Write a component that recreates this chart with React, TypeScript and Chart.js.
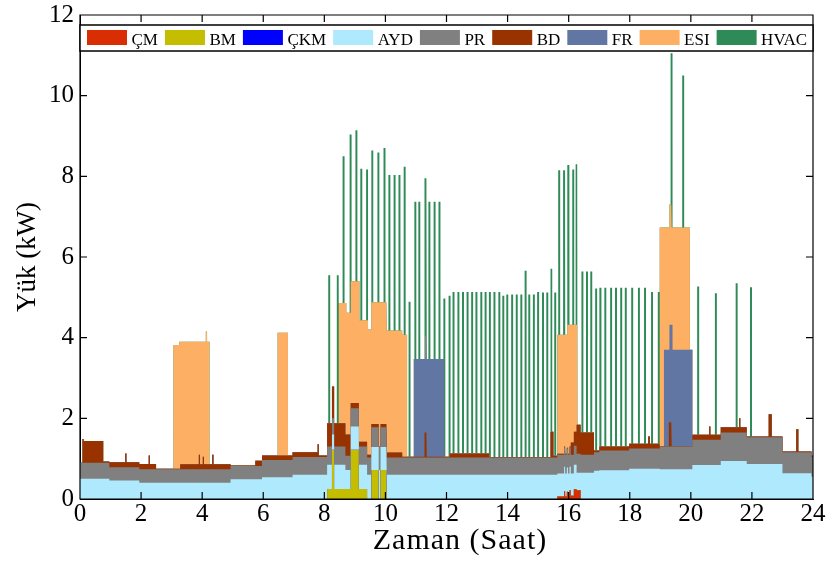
import React, { useEffect, useRef } from 'react';
import { Chart, registerables } from 'chart.js';

Chart.register(...registerables);

const FONT = '"Liberation Serif", "Times New Roman", serif';

const seriesLabels = ['ÇM', 'BM', 'ÇKM', 'AYD', 'PR', 'BD', 'FR', 'ESI', 'HVAC'];
const seriesColors = ['#D92E04', '#C4BD00', '#0000FF', '#AEE9FD', '#808080', '#983300', '#6276A4', '#FDAF63', '#2E8A57'];

const xTickValues = [0, 2, 4, 6, 8, 10, 12, 14, 16, 18, 20, 22, 24];
const yTickValues = [0, 2, 4, 6, 8, 10, 12];

// Base loads: each value holds from its start hour until the next start hour (last one until 24 h)
const segStart = [0, 0.08, 0.12, 0.76, 0.96, 1.48, 1.52, 1.94, 2.25, 2.29, 2.49, 3.28, 3.89, 3.93, 4.02, 4.06, 4.33, 4.37, 4.93, 5.74, 5.96, 6.96, 7.78, 7.82, 8.09, 8.25, 8.32, 8.69, 8.85, 9.13, 9.40, 9.54, 9.78, 9.84, 10.05, 10.55, 11.28, 11.36, 12.10, 13.40, 15.41, 15.50, 15.62, 15.85, 15.89, 15.94, 15.98, 16.03, 16.07, 16.17, 16.26, 16.39, 16.83, 17.00, 17.98, 18.60, 18.66, 18.98, 19.28, 19.36, 20.05, 20.60, 20.64, 20.98, 21.58, 21.62, 21.83, 22.55, 22.65, 23.00, 23.45, 23.52, 23.95];

const cmKW = [0, 0, 0, 0, 0, 0, 0, 0, 0, 0, 0, 0, 0, 0, 0, 0, 0, 0, 0, 0, 0, 0, 0, 0, 0, 0, 0, 0, 0, 0, 0, 0, 0, 0, 0, 0, 0, 0, 0, 0, 0, 0, 0.06, 0.20, 0.06, 0.18, 0.06, 0.22, 0.08, 0.24, 0.22, 0, 0, 0, 0, 0, 0, 0, 0, 0, 0, 0, 0, 0, 0, 0, 0, 0, 0, 0, 0, 0, 0];

const bmKW = [0, 0, 0, 0, 0, 0, 0, 0, 0, 0, 0, 0, 0, 0, 0, 0, 0, 0, 0, 0, 0, 0, 0, 0, 0.25, 1.22, 0.25, 0.25, 1.22, 0.25, 0, 0.72, 0, 0.72, 0, 0, 0, 0, 0, 0, 0, 0, 0, 0, 0, 0, 0, 0, 0, 0, 0, 0, 0, 0, 0, 0, 0, 0, 0, 0, 0, 0, 0, 0, 0, 0, 0, 0, 0, 0, 0, 0, 0];

const ckmKW = [0, 0, 0, 0, 0, 0, 0, 0, 0, 0, 0, 0, 0, 0, 0, 0, 0, 0, 0, 0, 0, 0, 0, 0, 0, 0, 0, 0, 0, 0, 0, 0, 0, 0, 0, 0, 0, 0, 0, 0, 0, 0, 0, 0, 0, 0, 0, 0, 0, 0, 0, 0, 0, 0, 0, 0, 0, 0, 0, 0, 0, 0, 0, 0, 0, 0, 0, 0, 0, 0, 0, 0, 0];

const aydKW = [0.50, 0.50, 0.50, 0.50, 0.46, 0.46, 0.46, 0.40, 0.40, 0.40, 0.40, 0.40, 0.40, 0.40, 0.40, 0.40, 0.40, 0.40, 0.49, 0.49, 0.54, 0.60, 0.60, 0.60, 0.60, 0.38, 0.60, 0.47, 0.58, 0.60, 0.60, 0.57, 0.72, 0.57, 0.60, 0.60, 0.60, 0.60, 0.60, 0.60, 0.60, 0.60, 0.57, 0.60, 0.57, 0.60, 0.57, 0.58, 0.55, 0.61, 0.43, 0.65, 0.70, 0.71, 0.75, 0.75, 0.75, 0.74, 0.74, 0.74, 0.84, 0.84, 0.84, 0.94, 0.94, 0.94, 0.87, 0.87, 0.87, 0.64, 0.64, 0.64, 0.55];

const prKW = [0.40, 0.40, 0.40, 0.40, 0.33, 0.33, 0.33, 0.34, 0.34, 0.34, 0.34, 0.34, 0.34, 0.34, 0.34, 0.34, 0.34, 0.34, 0.33, 0.33, 0.43, 0.44, 0.44, 0.44, 0.45, 0.40, 0.45, 0.35, 0.45, 0.45, 0.43, 0.49, 0.58, 0.49, 0.43, 0.43, 0.43, 0.43, 0.43, 0.43, 0.43, 0.43, 0.47, 0.48, 0.47, 0.47, 0.47, 0.48, 0.47, 0.47, 0.47, 0.45, 0.46, 0.49, 0.50, 0.50, 0.50, 0.56, 0.56, 0.56, 0.63, 0.63, 0.63, 0.71, 0.71, 0.71, 0.66, 0.66, 0.66, 0.52, 0.52, 0.52, 0.50];

const bdKW = [0, 0.59, 0.54, 0.03, 0.12, 0.34, 0.12, 0.13, 0.34, 0.13, 0.01, 0.12, 0.36, 0.12, 0.31, 0.12, 0.36, 0.12, 0.01, 0.13, 0.11, 0.12, 0.32, 0.04, 0.58, 0.79, 0.58, 0.53, 0.13, 0.12, 0.07, 0.08, 0, 0.08, 0.12, 0.02, 0.62, 0.02, 0.10, 0.01, 0.64, 0.04, 0.02, 0.02, 0.02, 0.02, 0.02, 0.02, 0.30, 0.35, 0.72, 0.55, 0.04, 0.10, 0.12, 0.30, 0.12, 0.01, 0.60, 0.01, 0.12, 0.33, 0.12, 0.13, 0.35, 0.13, 0.02, 0.57, 0.02, 0.02, 0.57, 0.02, 0.02];

// FR blocks: start, end, upper edge of the stack (kW)
const frStart = [10.93, 11.31, 11.36, 19.12, 19.30, 19.40];
const frEnd = [11.31, 11.36, 11.92, 19.30, 19.40, 20.05];
const frTop = [3.47, 4.03, 3.47, 3.70, 4.32, 3.70];

// ESI blocks: start, end, upper edge of the stack (kW)
const esiStart = [3.06, 3.25, 4.12, 4.16, 6.47, 8.47, 8.72, 8.87, 9.15, 9.43, 9.54, 10.03, 10.55, 15.63, 15.95, 18.98, 19.30, 19.38];
const esiEnd = [3.25, 4.12, 4.16, 4.24, 6.81, 8.72, 8.87, 9.15, 9.43, 9.54, 10.03, 10.55, 10.71, 15.95, 16.28, 19.30, 19.38, 19.97];
const esiTop = [3.82, 3.90, 4.15, 3.90, 4.12, 4.86, 4.62, 5.40, 4.43, 4.20, 4.88, 4.18, 4.07, 4.07, 4.32, 6.73, 7.30, 6.73];

// HVAC switching spikes: hour and upper edge of the stack (kW)
const hvacHour = [8.16, 8.44, 8.63, 8.86, 9.05, 9.21, 9.40, 9.57, 9.77, 9.97, 10.13, 10.30, 10.46, 10.63, 10.79, 10.98, 11.11, 11.31, 11.44, 11.61, 11.77, 11.93, 12.10, 12.23, 12.39, 12.54, 12.69, 12.84, 12.98, 13.14, 13.28, 13.42, 13.57, 13.73, 13.86, 13.99, 14.15, 14.30, 14.45, 14.59, 14.71, 14.86, 15.00, 15.16, 15.30, 15.43, 15.56, 15.69, 15.85, 15.99, 16.15, 16.26, 16.45, 16.60, 16.74, 16.90, 17.04, 17.20, 17.39, 17.55, 17.72, 17.87, 18.08, 18.30, 18.50, 18.73, 18.95, 19.37, 19.75, 20.24, 20.82, 21.50, 21.97];
const hvacTop = [5.55, 5.55, 8.50, 9.04, 9.14, 8.19, 8.17, 8.64, 8.59, 8.70, 8.03, 8.03, 8.03, 8.24, 4.89, 7.37, 7.37, 7.95, 7.37, 7.37, 7.37, 4.97, 5.04, 5.13, 5.13, 5.13, 5.13, 5.13, 5.13, 5.13, 5.13, 5.13, 5.13, 5.13, 5.04, 5.07, 5.07, 5.07, 5.07, 5.66, 5.07, 5.07, 5.13, 5.12, 5.12, 5.71, 5.12, 8.15, 8.15, 8.28, 8.17, 8.30, 5.64, 5.64, 5.64, 5.22, 5.24, 5.24, 5.24, 5.24, 5.24, 5.24, 5.24, 5.24, 5.24, 5.13, 5.13, 11.05, 10.50, 5.27, 5.10, 5.35, 5.25];

const SPIKE_HALF = 0.032;

function blockTop(starts: number[], ends: number[], tops: number[], t: number): number | null {
  for (let k = 0; k < starts.length; k++) {
    if (t >= starts[k] && t < ends[k]) return tops[k];
  }
  return null;
}

function buildStacks() {
  const set = new Set<number>();
  const add = (v: number) => set.add(Math.round(v * 10000) / 10000);
  add(0); add(24);
  segStart.forEach(add);
  frStart.forEach(add); frEnd.forEach(add);
  esiStart.forEach(add); esiEnd.forEach(add);
  hvacHour.forEach((h) => { add(h - SPIKE_HALF); add(h + SPIKE_HALF); });
  const bps = Array.from(set).filter((v) => v >= 0 && v <= 24).sort((a, b) => a - b);
  const stacks: { x: number; y: number }[][] = seriesLabels.map(() => []);
  for (let i = 0; i < bps.length - 1; i++) {
    const t0 = bps[i];
    const t1 = bps[i + 1];
    const mid = (t0 + t1) / 2;
    let s = 0;
    while (s + 1 < segStart.length && segStart[s + 1] <= mid) s++;
    const cum: number[] = [];
    let c = 0;
    const own = [cmKW[s], bmKW[s], ckmKW[s], aydKW[s], prKW[s], bdKW[s]];
    own.forEach((v) => { c += v; cum.push(c); });
    const fr = blockTop(frStart, frEnd, frTop, mid);
    c = fr !== null ? Math.max(c, fr) : c; cum.push(c);
    const esi = blockTop(esiStart, esiEnd, esiTop, mid);
    c = esi !== null ? Math.max(c, esi) : c; cum.push(c);
    let hv: number | null = null;
    for (let k = 0; k < hvacHour.length; k++) {
      if (mid >= hvacHour[k] - SPIKE_HALF && mid < hvacHour[k] + SPIKE_HALF) { hv = hvacTop[k]; break; }
    }
    c = hv !== null ? Math.max(c, hv) : c; cum.push(c);
    cum.forEach((v, k) => {
      stacks[k].push({ x: t0, y: v });
      stacks[k].push({ x: t1, y: v });
    });
  }
  return stacks;
}

const decorPlugin = {
  id: 'decor',
  afterDraw(chart: any) {
    const { ctx, chartArea: a, scales } = chart;
    const xs = scales.x;
    const ys = scales.y;
    ctx.save();
    ctx.strokeStyle = '#000';
    ctx.lineWidth = 1.2;
    ctx.beginPath();
    ctx.rect(a.left, a.top, a.right - a.left, a.bottom - a.top);
    for (const v of xTickValues) {
      const px = xs.getPixelForValue(v);
      ctx.moveTo(px, a.bottom); ctx.lineTo(px, a.bottom - 7);
      ctx.moveTo(px, a.top); ctx.lineTo(px, a.top + 7);
    }
    for (const v of yTickValues) {
      const py = ys.getPixelForValue(v);
      ctx.moveTo(a.left, py); ctx.lineTo(a.left + 7, py);
      ctx.moveTo(a.right, py); ctx.lineTo(a.right - 7, py);
    }
    ctx.stroke();

    // legend box inside plot
    const boxTop = a.top + 10;
    const boxH = 26;
    ctx.fillStyle = '#fff';
    ctx.fillRect(a.left, boxTop, a.right - a.left, boxH);
    ctx.lineWidth = 1.5;
    ctx.strokeRect(a.left, boxTop, a.right - a.left, boxH);
    ctx.font = `17px ${FONT}`;
    ctx.textBaseline = 'alphabetic';
    ctx.textAlign = 'left';
    let x = a.left + 7;
    seriesLabels.forEach((lab, i) => {
      ctx.fillStyle = seriesColors[i];
      ctx.fillRect(x, boxTop + 5, 40, 15);
      ctx.fillStyle = '#000';
      ctx.fillText(lab, x + 44.5, boxTop + 20);
      x += 44.5 + ctx.measureText(lab).width + 7;
    });

    // axis titles
    ctx.fillStyle = '#000';
    ctx.font = `30px ${FONT}`;
    ctx.textAlign = 'center';
    ctx.textBaseline = 'alphabetic';
    try { (ctx as any).letterSpacing = '1px'; } catch (e) { /* ignore */ }
    ctx.fillText('Zaman (Saat)', 460, 549);
    try { (ctx as any).letterSpacing = '0px'; } catch (e) { /* ignore */ }
    ctx.font = `27px ${FONT}`;
    ctx.translate(28, (a.top + a.bottom) / 2);
    ctx.rotate(-Math.PI / 2);
    ctx.textBaseline = 'middle';
    ctx.fillText('Yük (kW)', 0, 0);
    ctx.restore();
  },
};

export default function App() {
  const ref = useRef<HTMLCanvasElement | null>(null);
  useEffect(() => {
    if (!ref.current) return;
    const stacks = buildStacks();
    const chart = new Chart(ref.current, {
      type: 'line',
      data: {
        datasets: seriesLabels.map((lab, i) => ({
          label: lab,
          data: stacks[i],
          backgroundColor: seriesColors[i],
          borderColor: seriesColors[i],
          borderWidth: 0,
          pointRadius: 0,
          fill: 'origin',
          tension: 0,
        })),
      },
      options: {
        animation: false,
        responsive: true,
        maintainAspectRatio: false,
        layout: { padding: { left: 0, right: 16, top: 15, bottom: 0 } },
        plugins: { legend: { display: false }, tooltip: { enabled: false } },
        scales: {
          x: {
            type: 'linear',
            min: 0,
            max: 24,
            afterFit: (s: any) => { s.height = 62; s.paddingLeft = 0; s.paddingRight = 0; },
            afterBuildTicks: (s: any) => { s.ticks = xTickValues.map((v) => ({ value: v })); },
            ticks: { font: { family: FONT, size: 25 }, color: '#000', padding: 0, maxRotation: 0, autoSkip: false },
            grid: { display: false, drawTicks: false },
            border: { display: true, color: '#000' },
          },
          y: {
            type: 'linear',
            min: 0,
            max: 12,
            afterFit: (s: any) => { s.width = 80; s.paddingTop = 0; s.paddingBottom = 0; },
            afterBuildTicks: (s: any) => { s.ticks = yTickValues.map((v) => ({ value: v })); },
            ticks: { font: { family: FONT, size: 25 }, color: '#000', padding: 6 },
            grid: { display: false, drawTicks: false },
            border: { display: true, color: '#000' },
          },
        },
      },
      plugins: [decorPlugin],
    });
    return () => chart.destroy();
  }, []);
  return (
    <div style={{ position: 'absolute', left: 0, top: 0, width: 829, height: 561, background: '#fff' }}>
      <canvas ref={ref} />
    </div>
  );
}
